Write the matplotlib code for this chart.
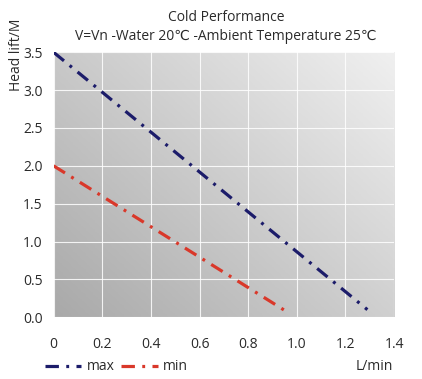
import numpy as np
import matplotlib.pyplot as plt
from matplotlib.colors import LinearSegmentedColormap

plt.rcParams['font.family'] = ['Open Sans', 'DejaVu Sans']

# data
max_x = [0, 1.29]
max_y = [3.5, 0.1]
min_x = [0, 0.97]
min_y = [2.0, 0.05]
xticks = [0, 0.2, 0.4, 0.6, 0.8, 1.0, 1.2, 1.4]
xtick_labels = ['0', '0.2', '0.4', '0.6', '0.8', '1.0', '1.2', '1.4']
yticks = [0.0, 0.5, 1.0, 1.5, 2.0, 2.5, 3.0, 3.5]

fig = plt.figure(figsize=(4.22, 3.79), dpi=100)
ax = fig.add_axes([0.127, 0.163, 0.807, 0.699])

# gradient background, dark bottom-left to light top-right
gx, gy = np.meshgrid(np.linspace(0, 1, 200), np.linspace(0, 1, 200))
g = (gx * 0.55 + gy * 0.45)
cmap = LinearSegmentedColormap.from_list('bg', ['#a9a9a9', '#f0f0f0'])
ax.imshow(g, cmap=cmap, origin='lower', extent=[0, 1, 0, 1],
          transform=ax.transAxes, aspect='auto', zorder=0)

ax.set_xlim(0, 1.4)
ax.set_ylim(0, 3.5)
ax.set_xticks(xticks)
ax.set_xticklabels(xtick_labels)
ax.set_yticks(yticks)
ax.set_yticklabels([f'{v:.1f}' for v in yticks])
ax.grid(True, color='white', linewidth=0.8, alpha=0.85, zorder=1)
ax.set_axisbelow(False)
for s in ax.spines.values():
    s.set_visible(False)
ax.tick_params(length=0, labelsize=10, colors='#2a2a2a', pad=8)
ax.tick_params(axis='x', pad=14)

dash = (4.2, 2.3, 0.9, 2.3)
l1, = ax.plot(max_x, max_y, color='#1c1c6a', linewidth=2.3,
              dashes=dash, zorder=3, label='max')
l2, = ax.plot(min_x, min_y, color='#d9382a', linewidth=2.3,
              dashes=dash, zorder=3, label='min')

fig.text(0.535, 0.955, 'Cold Performance', ha='center', va='center',
         fontsize=10, color='#2a2a2a')
fig.text(0.535, 0.905, 'V=Vn -Water 20\u2103 -Ambient Temperature 25\u2103',
         ha='center', va='center', fontsize=10, color='#2a2a2a')
fig.text(0.038, 0.855, 'Head lift/M', rotation=90, ha='center', va='center',
         fontsize=10, color='#2a2a2a')
fig.text(0.886, 0.032, 'L/min', ha='center', va='center',
         fontsize=10, color='#2a2a2a')

fig.legend(handles=[l1, l2], loc='center left', bbox_to_anchor=(0.09, 0.032),
           ncol=2, frameon=False, fontsize=10, handlelength=2.6,
           columnspacing=0.5, handletextpad=0.4, borderpad=0,
           labelcolor='#2a2a2a')

fig.savefig('out.png', dpi=100)
